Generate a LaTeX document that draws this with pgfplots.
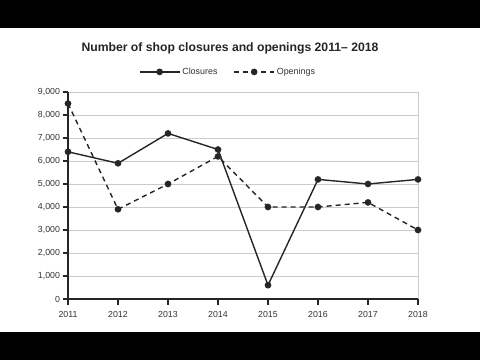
\documentclass[border=0pt]{standalone}
\usepackage{pgfplots}
\pgfplotsset{compat=1.18}
\usepackage{fontspec}
\setmainfont{Liberation Sans}
\begin{document}
\begin{tikzpicture}
\fill[black] (0pt,0pt) rectangle (480pt,360pt);
\fill[white] (0pt,28pt) rectangle (480pt,332pt);
\node[font=\fontsize{12.2}{14}\selectfont\bfseries, text=black!85] at (230pt,312pt) {Number of shop closures and openings 2011-- 2018};
\begin{axis}[
  at={(68pt,61pt)}, anchor=south west,
  scale only axis, width=350pt, height=207pt,
  xmin=2011, xmax=2018, ymin=0, ymax=9000,
  clip=false,
  axis x line*=bottom, axis y line*=left,
  axis line style={-, black!85, line width=1.1pt},
  xtick={2011,...,2018},
  xticklabels={2011,2012,2013,2014,2015,2016,2017,2018},
  ytick={0,1000,...,9000},
  /pgf/number format/assume math mode=true,
  /pgf/number format/1000 sep={,},
  tick align=outside,
  major tick length=5.5pt,
  tick style={black!85, line width=1.1pt},
  tick label style={font=\fontsize{8.8}{10}\selectfont, text=black!80},
  xticklabel style={yshift=-3pt},
  yticklabel style={xshift=1pt},
  ymajorgrids, major grid style={gray!40, line width=0.8pt},
  legend style={at={(0.457,1.097)}, anchor=center, draw=none, fill=none,
    font=\fontsize{8.9}{10}\selectfont, text=black!80,
    /tikz/every even column/.append style={column sep=14pt}},
  legend columns=2,
  legend image code/.code={\draw[mark repeat=2,mark phase=2,#1] plot coordinates {(0pt,0pt) (20pt,0pt) (40pt,0pt)};},
]
\draw[gray!40, line width=0.9pt] (axis cs:2018,0) -- (axis cs:2018,9000);
\addplot[black!85, line width=1.4pt, mark=*, mark size=2.6pt, mark options={solid}] coordinates {
 (2011,6400) (2012,5900) (2013,7200) (2014,6500) (2015,600) (2016,5200) (2017,5000) (2018,5200)};
\addlegendentry{Closures}
\addplot[black!85, line width=1.4pt, dash pattern=on 5pt off 4pt, mark=*, mark size=2.6pt, mark options={solid}] coordinates {
 (2011,8500) (2012,3900) (2013,5000) (2014,6200) (2015,4000) (2016,4000) (2017,4200) (2018,3000)};
\addlegendentry{Openings}
\end{axis}
\end{tikzpicture}
\end{document}
